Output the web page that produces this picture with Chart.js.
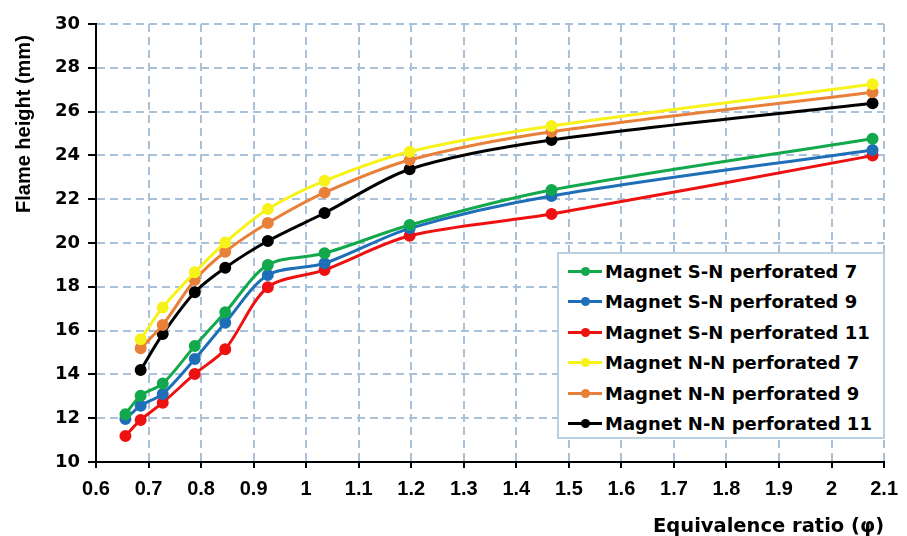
<!DOCTYPE html>
<html>
<head>
<meta charset="utf-8">
<script src="https://cdn.jsdelivr.net/npm/chart.js@4.4.1/dist/chart.umd.min.js"></script>
<style>
  html, body { margin: 0; padding: 0; background: #fff; }
  #wrap { position: relative; width: 907px; height: 536px; }
  #ytitle {
    position: absolute; left: 11px; top: 13px; width: 24px; height: 200px;
    writing-mode: vertical-rl; transform: rotate(180deg);
    font-family: "Liberation Sans", Arial, sans-serif; font-weight: bold; font-size: 20px;
    line-height: 24px; text-align: left; color: #000; white-space: nowrap;
  }
  #legend {
    position: absolute; left: 557px; top: 252px; width: 324px; height: 181px;
    border: 2px solid #bcd0e4; background: #fff; padding-top: 2px;
    font-family: "DejaVu Sans", Arial, sans-serif; font-weight: bold; font-size: 18px; color: #000;
  }
  .row { display: flex; align-items: center; height: 30.5px; }
  .swatch { position: relative; width: 34px; height: 3px; margin-left: 9px; margin-right: 3px; }
  .swatch i { position: absolute; left: 13px; top: -3px; width: 9px; height: 9px; border-radius: 50%; }
</style>
</head>
<body>
<div id="wrap">
  <canvas id="chart" width="907" height="536"></canvas>
  <div id="ytitle">Flame height (mm)</div>
  <div id="legend"></div>
</div>
<script>
// equivalence ratio positions of the measured points
const phiSN = [0.656, 0.685, 0.727, 0.788, 0.846, 0.927, 1.035, 1.197, 1.467, 2.078];
const phiNN = [0.685, 0.727, 0.788, 0.846, 0.927, 1.035, 1.197, 1.467, 2.078];

// flame height (mm)
const snPerf7  = [12.18, 13.03, 13.58, 15.30, 16.84, 19.00, 19.53, 20.82, 22.42, 24.76];
const snPerf9  = [11.96, 12.57, 13.11, 14.70, 16.36, 18.54, 19.07, 20.67, 22.15, 24.25];
const snPerf11 = [11.19, 11.92, 12.71, 14.02, 15.15, 17.98, 18.77, 20.33, 21.32, 23.99];
const nnPerf7  = [15.60, 17.06, 18.66, 20.02, 21.55, 22.84, 24.17, 25.34, 27.25];
const nnPerf9  = [15.19, 16.26, 18.31, 19.60, 20.91, 22.30, 23.79, 25.08, 26.88];
const nnPerf11 = [14.20, 15.84, 17.75, 18.87, 20.09, 21.37, 23.37, 24.70, 26.38];

const seriesLabels = [
  'Magnet S-N perforated 7', 'Magnet S-N perforated 9', 'Magnet S-N perforated 11',
  'Magnet N-N perforated 7', 'Magnet N-N perforated 9', 'Magnet N-N perforated 11'
];
const seriesColors = ['#12a84c', '#1f6fb8', '#ee1111', '#f7f21a', '#e8803a', '#000000'];
const seriesValues = [snPerf7, snPerf9, snPerf11, nnPerf7, nnPerf9, nnPerf11];
const seriesPhi = [phiSN, phiSN, phiSN, phiNN, phiNN, phiNN];

const xTicks = [0.6, 0.7, 0.8, 0.9, 1, 1.1, 1.2, 1.3, 1.4, 1.5, 1.6, 1.7, 1.8, 1.9, 2, 2.1];
const yTicks = [10, 12, 14, 16, 18, 20, 22, 24, 26, 28, 30];

const gridColor = '#a9c2da';

const datasets = seriesLabels.map((label, i) => ({
  label: label,
  data: seriesValues[i].map((v, j) => ({ x: seriesPhi[i][j], y: v })),
  borderColor: seriesColors[i],
  backgroundColor: seriesColors[i],
  borderWidth: 3,
  pointRadius: 4.5,
  pointHoverRadius: 4.5,
  tension: 0.3
}));

new Chart(document.getElementById('chart'), {
  type: 'line',
  data: { datasets: datasets },
  options: {
    responsive: false,
    animation: false,
    layout: { padding: { top: 24, right: 1, left: 0, bottom: 0 } },
    plugins: { legend: { display: false }, tooltip: { enabled: false } },
    scales: {
      x: {
        type: 'linear',
        min: 0.6, max: 2.1,
        afterBuildTicks: scale => { scale.ticks = xTicks.map(v => ({ value: v })); },
        afterFit: scale => { scale.height = 74; },
        ticks: { color: '#000', padding: 9, maxRotation: 0,
                 font: { family: '"Liberation Sans", Arial, sans-serif', weight: 'bold', size: 20 },
                 callback: v => String(v) },
        grid: { color: gridColor, lineWidth: 2,
                tickColor: '#000', tickLength: 6, tickWidth: 2, tickBorderDash: [1, 0] },
        border: { color: '#000', width: 2, dash: [8, 5] },
        title: { display: true, text: 'Equivalence ratio (φ)', align: 'end', color: '#000',
                 font: { family: '"DejaVu Sans", Arial, sans-serif', weight: 'bold', size: 19.5 },
                 padding: { top: 0, bottom: -3 } }
      },
      y: {
        min: 10, max: 30,
        afterBuildTicks: scale => { scale.ticks = yTicks.map(v => ({ value: v })); },
        afterFit: scale => { scale.width = 96; },
        ticks: { color: '#000', padding: 8,
                 font: { family: '"DejaVu Sans", Arial, sans-serif', weight: 'bold', size: 18 } },
        grid: { color: gridColor, lineWidth: 2,
                tickColor: '#000', tickLength: 8, tickWidth: 2, tickBorderDash: [1, 0] },
        border: { color: '#000', width: 2, dash: [8, 5] }
      }
    }
  }
});

// legend inside the plot, built from the series
const legendDiv = document.getElementById('legend');
seriesLabels.forEach((label, i) => {
  const row = document.createElement('div');
  row.className = 'row';
  row.innerHTML = '<span class="swatch" style="background:' + seriesColors[i] + '"><i style="background:' +
    seriesColors[i] + '"></i></span><span>' + label + '</span>';
  legendDiv.appendChild(row);
});
</script>
</body>
</html>
